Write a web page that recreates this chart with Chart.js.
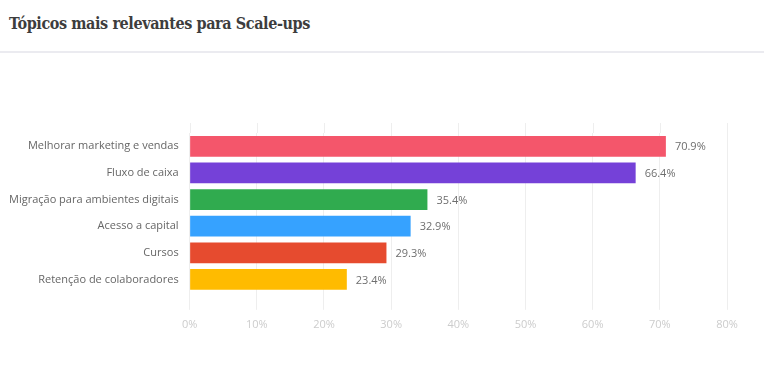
<!DOCTYPE html>
<html lang="pt">
<head>
<meta charset="UTF-8">
<title>Tópicos mais relevantes para Scale-ups</title>
<script src="https://cdn.jsdelivr.net/npm/chart.js"></script>
<style>
  body { margin: 0; background: #fff; width: 764px; height: 366px; overflow: hidden; position: relative; }
  #title {
    position: absolute; left: 9px; top: 14px;
    font-family: "DejaVu Serif Condensed", "DejaVu Serif", serif;
    font-weight: bold; font-size: 16px; letter-spacing: -0.4px; color: #3d3d3d;
  }
  #sep { position: absolute; left: 0; top: 51px; width: 764px; height: 2px; background: #ebebf0; }
  #chart { position: absolute; left: -2px; top: 56px; }
</style>
</head>
<body>
<div id="title">Tópicos mais relevantes para Scale-ups</div>
<div id="sep"></div>
<canvas id="chart" width="766" height="299"></canvas>
<script>
// values
const topics = [
  'Melhorar marketing e vendas',
  'Fluxo de caixa',
  'Migração para ambientes digitais',
  'Acesso a capital',
  'Cursos',
  'Retenção de colaboradores'
];
const shares = [70.9, 66.4, 35.4, 32.9, 29.3, 23.4];
const barColors = ['#f4566b', '#7541d8', '#30ab4f', '#36a2ff', '#e64b2f', '#ffbb00'];

// value labels at the end of each bar
const valueLabels = {
  id: 'valueLabels',
  afterDatasetsDraw(chart) {
    const ctx = chart.ctx;
    ctx.save();
    ctx.font = '11px "Open Sans"';
    ctx.fillStyle = '#6e6e6e';
    ctx.textBaseline = 'middle';
    ctx.textAlign = 'left';
    chart.getDatasetMeta(0).data.forEach((bar, i) => {
      ctx.fillText(shares[i].toFixed(1) + '%', bar.x + 9, bar.y + 1);
    });
    ctx.restore();
  }
};

// grid lines poke a little above the plot area
const gridTop = {
  id: 'gridTop',
  beforeDatasetsDraw(chart) {
    const ctx = chart.ctx;
    const x = chart.scales.x;
    ctx.save();
    ctx.strokeStyle = '#eeeeee';
    ctx.lineWidth = 1;
    x.ticks.forEach((t, i) => {
      const px = Math.round(x.getPixelForTick(i)) + 0.5;
      ctx.beginPath();
      ctx.moveTo(px, chart.chartArea.top - 10);
      ctx.lineTo(px, chart.chartArea.top);
      ctx.stroke();
    });
    ctx.restore();
  }
};

new Chart(document.getElementById('chart'), {
  type: 'bar',
  data: {
    labels: topics,
    datasets: [{
      data: shares,
      backgroundColor: barColors,
      borderWidth: 0,
      categoryPercentage: 1,
      barPercentage: 0.78
    }]
  },
  options: {
    indexAxis: 'y',
    responsive: false,
    animation: false,
    layout: { padding: { top: 77, right: 37, bottom: 16, left: 0 } },
    scales: {
      x: {
        min: 0, max: 80,
        border: { display: false },
        grid: { color: '#eeeeee', tickLength: 17, drawTicks: true },
        ticks: {
          stepSize: 10, padding: 8, color: '#cccccc',
          font: { family: 'Open Sans', size: 11 },
          callback: v => v + '%'
        }
      },
      y: {
        border: { display: false },
        grid: { display: false, drawTicks: false },
        ticks: { color: '#666', padding: 11, font: { family: 'Open Sans', size: 11 } }
      }
    },
    plugins: { legend: { display: false }, tooltip: { enabled: false } }
  },
  plugins: [gridTop, valueLabels]
});
</script>
</body>
</html>
